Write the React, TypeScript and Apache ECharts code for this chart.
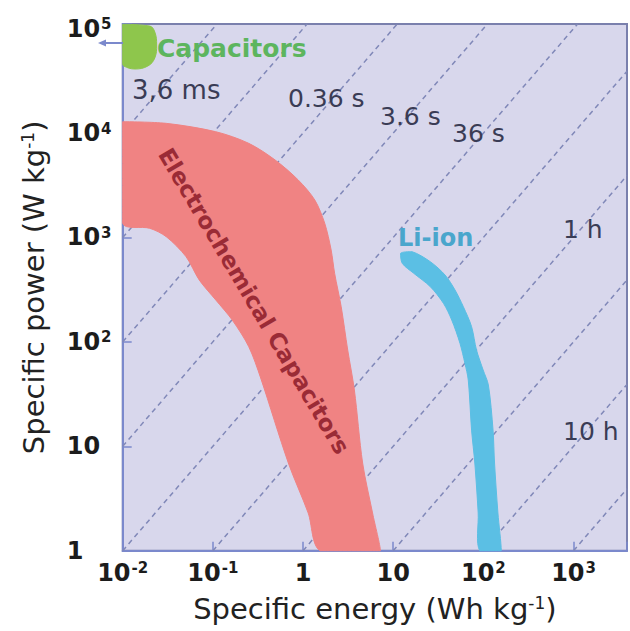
import React, { useEffect, useRef } from 'react';
import * as echarts from 'echarts';

// ---- axis ranges / ticks ----
const xTickExps = [-2, -1, 0, 1, 2, 3];
const yTickExps = [0, 1, 2, 3, 4, 5];
const X_MIN = 0.01;
const X_MAX = Math.pow(10, 3.593);
const Y_MIN = 1;
const Y_MAX = Math.pow(10, 5.045);

// constant discharge-time lines (hours): P = E / t
const timeConstantsH = [1e-6, 1e-5, 1e-4, 1e-3, 1e-2, 1e-1, 1, 10, 100, 1000];

// text labels
const timeLabels = ['3,6 ms', '0.36 s', '3.6 s', '36 s', '1 h', '10 h'];
const regionLabels = ['Capacitors', 'Electrochemical Capacitors', 'Li-ion'];

// ---- regions [specific energy Wh/kg, specific power W/kg] ----
const capacitorsRegion = [
  [0.01, 110000], [0.01995, 106000], [0.0227, 93000], [0.0238, 69800],
  [0.0227, 52400], [0.019, 43900], [0.01365, 41100], [0.0103, 43900], [0.01, 47000],
];

const electrochemicalRegion = [
  [0.01, 12850], [0.0304, 12400], [0.1077, 10310], [0.25, 7980], [0.491, 5520],
  [0.885, 3555], [1.35, 2287], [1.74, 1368], [2.05, 759], [2.24, 454], [2.65, 217],
  [3.13, 83.6], [3.71, 34.6], [4.58, 6.92], [5.9, 2.3], [7.22, 1],
  [1.55, 1], [1.14, 2.3], [0.687, 6.92], [0.339, 45.1], [0.25, 90], [0.164, 162],
  [0.1077, 252], [0.0706, 392], [0.0504, 655], [0.0304, 1018], [0.01995, 1225], [0.01, 1368],
];

const liIonRegion = [
  [12.07, 706], [12.6, 566], [16.9, 454], [25.8, 338], [36.1, 234], [44.6, 162],
  [55.0, 97], [62.4, 62.4], [68.0, 43.2], [74.0, 14.3], [80.4, 6.92], [87.6, 2.3], [91.2, 1],
  [158, 1], [145, 2.3], [133, 6.92], [128, 14.3], [113.6, 38.7], [99.4, 53.8], [83.9, 83.6],
  [74.0, 140], [60.0, 217], [48.5, 314], [37.6, 437], [25.8, 586], [16.2, 731],
];

const FONT = '"DejaVu Sans", sans-serif';

function tickLabel(exps: number[], v: number): string {
  const l = Math.log10(v);
  const e = Math.round(l);
  if (Math.abs(l - e) > 1e-6 || exps.indexOf(e) < 0) return '';
  if (e === 0) return '1';
  if (e === 1) return '10';
  return '10{sup|' + e + '}';
}

function timeLine(t: number) {
  const start = Math.max(X_MIN, Y_MIN * t);
  const end = Math.min(X_MAX, Y_MAX * t);
  if (start >= end) return null;
  return [[start, start / t], [end, end / t]];
}

function polygonSeries(name: string, pts: number[][], fill: string, smooth: number) {
  return {
    name,
    type: 'custom',
    coordinateSystem: 'cartesian2d',
    z: 3,
    silent: true,
    data: pts,
    renderItem: (params: any, api: any) => {
      if (params.dataIndex !== 0) return null;
      const points = pts.map((p) => api.coord(p));
      let x0 = Infinity, y0 = Infinity, x1 = -Infinity, y1 = -Infinity;
      points.forEach((p: number[]) => {
        x0 = Math.min(x0, p[0]); y0 = Math.min(y0, p[1]);
        x1 = Math.max(x1, p[0]); y1 = Math.max(y1, p[1]);
      });
      return {
        type: 'polygon',
        shape: { points, smooth, smoothConstraint: [[x0, y0], [x1, y1]] },
        style: { fill, stroke: fill, lineWidth: 1 },
      };
    },
  };
}

export default function App() {
  const ref = useRef<HTMLDivElement>(null);
  useEffect(() => {
    if (!ref.current) return;
    const chart = echarts.init(ref.current, undefined, { renderer: 'svg' });

    const lineSeries: any[] = [];
    timeConstantsH.forEach((t, i) => {
      const d = timeLine(t);
      if (!d) return;
      lineSeries.push({
        name: 't' + i,
        type: 'line',
        data: d,
        symbol: 'none',
        silent: true,
        z: 2,
        lineStyle: { color: '#8088b8', width: 1.5, type: [5, 4] },
      });
    });

    const tickRich = {
      sup: { fontSize: 15, fontWeight: 'bold', fontFamily: FONT, color: '#1c1c1c', verticalAlign: 'top', padding: [0, 0, 0, 1] },
    };
    const nameRich = {
      sup: { fontSize: 17, fontFamily: FONT, color: '#222222', verticalAlign: 'top' },
    };

    const font = (size: number, weight = 'normal') => `${weight} ${size}px ${FONT}`;
    const label = (text: string, x: number, y: number, size: number, fill: string, weight = 'normal', rotation = 0, center = false) => ({
      type: 'text',
      z: 20,
      x,
      y,
      rotation,
      style: {
        text,
        font: font(size, weight),
        fill,
        align: center ? 'center' : 'left',
        verticalAlign: 'middle',
        textAlign: center ? 'center' : 'left',
        textVerticalAlign: 'middle',
      },
    });

    chart.setOption({
      animation: false,
      backgroundColor: '#ffffff',
      grid: {
        left: 122.7,
        top: 24,
        right: -2,
        bottom: 80.3,
        show: true,
        backgroundColor: '#d8d7ec',
        borderColor: '#7a80ad',
        borderWidth: 2,
      },
      xAxis: {
        type: 'log',
        logBase: 10,
        min: X_MIN,
        max: X_MAX,
        name: 'Specific energy (Wh kg{sup|-1})',
        nameLocation: 'middle',
        nameGap: 44,
        nameTextStyle: { fontFamily: FONT, fontSize: 29, color: '#222222', rich: nameRich },
        axisLine: { show: true, lineStyle: { color: '#7b89cc', width: 2 } },
        axisTick: { show: true, inside: true, length: 9, lineStyle: { color: '#7b89cc', width: 1.5 } },
        axisLabel: {
          margin: 10,
          fontFamily: FONT,
          fontWeight: 'bold',
          fontSize: 24,
          color: '#1c1c1c',
          formatter: (v: number) => tickLabel(xTickExps, v),
          rich: tickRich,
        },
        splitLine: { show: false },
      },
      yAxis: {
        type: 'log',
        logBase: 10,
        min: Y_MIN,
        max: Y_MAX,
        name: 'Specific power (W kg{sup|-1})',
        nameLocation: 'middle',
        nameGap: 74,
        nameTextStyle: { fontFamily: FONT, fontSize: 29, color: '#222222', rich: nameRich },
        axisLine: { show: true, lineStyle: { color: '#7b89cc', width: 2 } },
        axisTick: { show: true, inside: true, length: 9, lineStyle: { color: '#7b89cc', width: 1.5 } },
        axisLabel: {
          margin: 56,
          align: 'left',
          fontFamily: FONT,
          fontWeight: 'bold',
          fontSize: 24,
          color: '#1c1c1c',
          formatter: (v: number) => tickLabel(yTickExps, v),
          rich: tickRich,
        },
        splitLine: { show: false },
      },
      series: [
        ...lineSeries,
        polygonSeries('Capacitors', capacitorsRegion, '#8ec64c', 0.4),
        polygonSeries('Electrochemical Capacitors', electrochemicalRegion, '#f08383', 0.3),
        polygonSeries('Li-ion', liIonRegion, '#5bbfe4', 0.3),
      ],
      graphic: [
        { type: 'line', z: 20, shape: { x1: 104, y1: 43, x2: 123, y2: 43 }, style: { stroke: '#7b89cc', lineWidth: 2 } },
        { type: 'polygon', z: 20, shape: { points: [[98, 43], [106, 39.5], [106, 46.5]] }, style: { fill: '#7b89cc' } },
        label(regionLabels[0], 157, 48, 25, '#5db55e', 'bold'),
        label(regionLabels[1], 254, 301, 23, '#9a2b36', 'bold', -1.035, true),
        label(regionLabels[2], 398, 238, 24, '#4aa6cc', 'bold'),
        label(timeLabels[0], 132, 90, 26, '#3a3c55'),
        label(timeLabels[1], 288, 98, 25, '#3a3c55'),
        label(timeLabels[2], 380, 116, 25, '#3a3c55'),
        label(timeLabels[3], 452, 133, 25, '#3a3c55'),
        label(timeLabels[4], 563, 229, 25, '#3a3c55'),
        label(timeLabels[5], 563, 431, 25, '#3a3c55'),
      ],
    });
    return () => chart.dispose();
  }, []);
  return <div ref={ref} style={{ position: 'fixed', left: 0, top: 0, width: 630, height: 631 }} />;
}
